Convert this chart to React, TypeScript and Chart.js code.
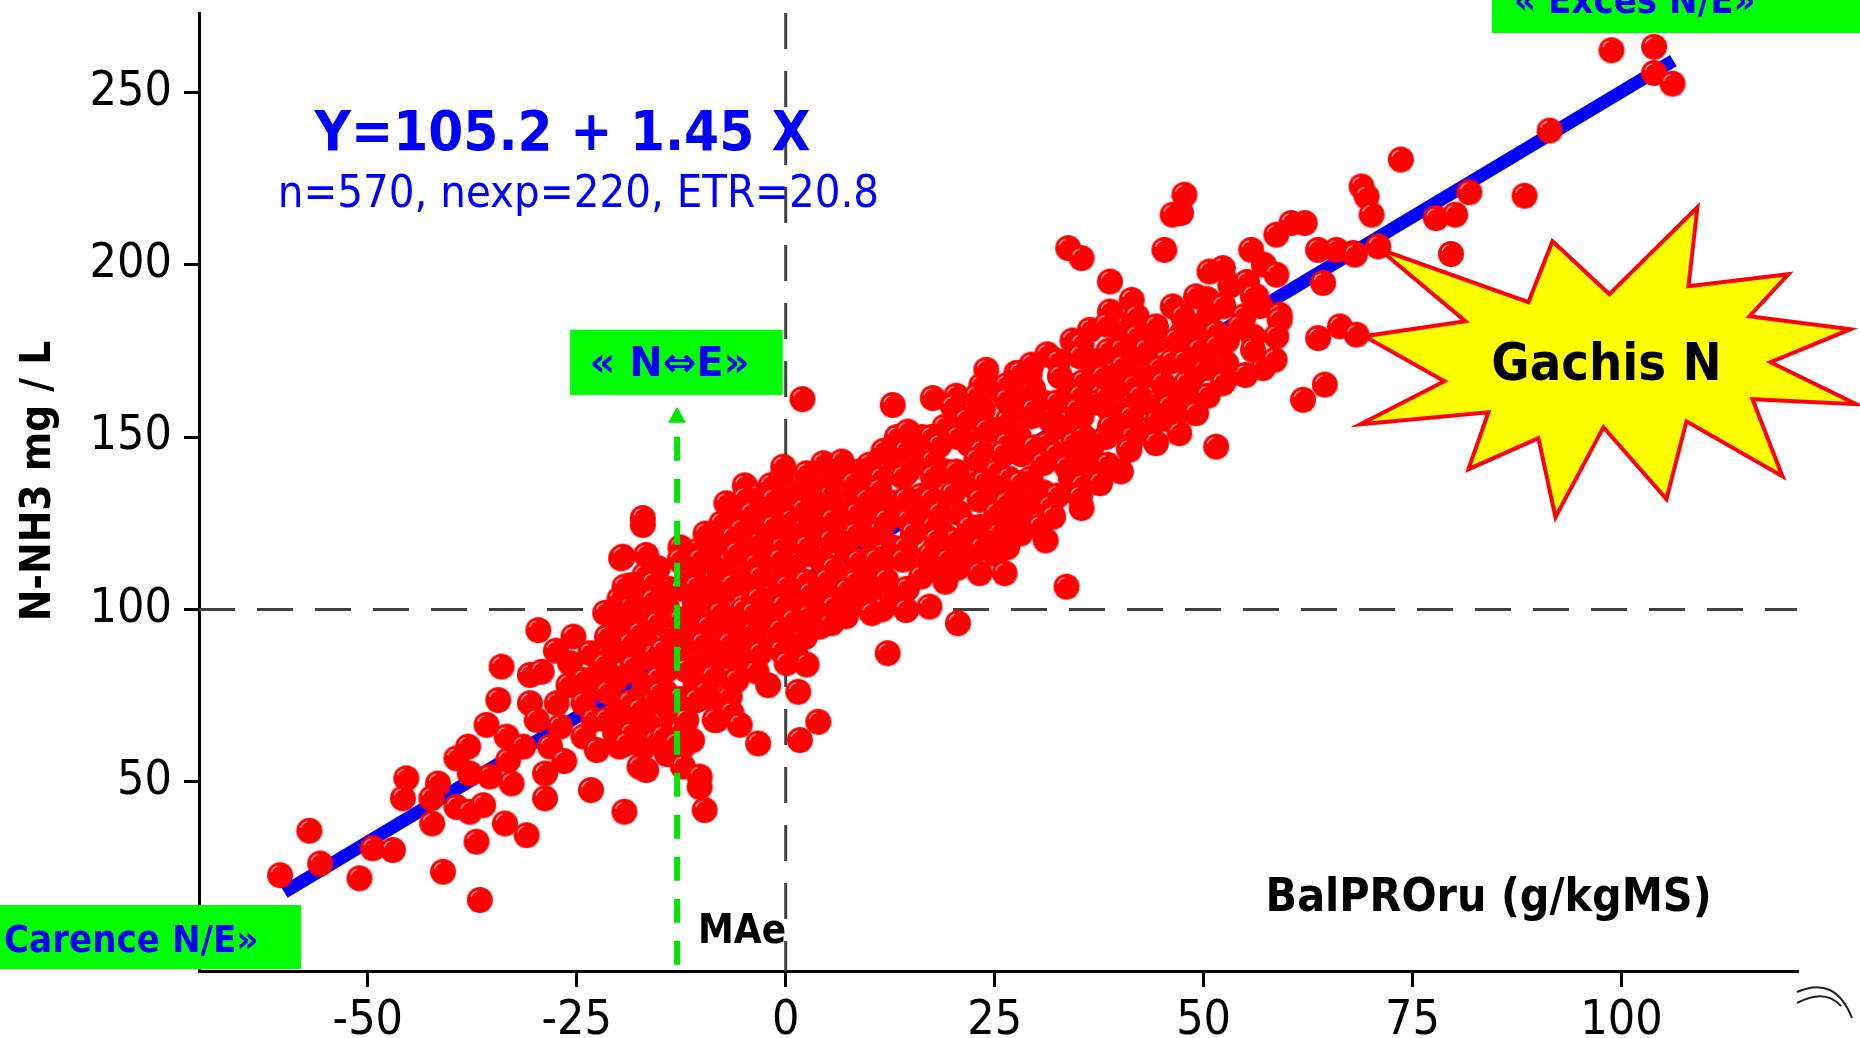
import { useEffect, useRef } from "react";
import { Chart, registerables } from "chart.js";
Chart.register(...registerables);

const W = 1860;
const H = 1038;

// axes
const xTicks = [-50, -25, 0, 25, 50, 75, 100];
const yTicks = [50, 100, 150, 200, 250];
const xRange = [-70.2, 121];
const yRange = [-4.9, 273];

// regression line end points (Y=105.2 + 1.45 X)
const regLine: [number, number][] = [[-60, 18], [106.2, 259.2]];
const refX = 0;
const refY = 100;
const maeX = -13;

// red points, BalPROru vs N-NH3
const lowerCloud: [number, number][] = [
  [-60.5, 22.9], [-57, 35.8], [-55.7, 26.3], [-51, 22], [-49.4, 30.7], [-47, 30.2], [-45.4, 51], [-45.8, 45.2],
  [-42.3, 37.9], [-41.6, 49.5], [-42.4, 45.2], [-41, 23.9], [-39.4, 42.7], [-37.8, 41.3], [-36.6, 15.7], [-37, 32.6],
  [-33.6, 37.9], [-31, 34.5], [-36.2, 43.2], [-32.8, 49.5], [-28.8, 45.2], [-28.8, 52.4], [-33.2, 56.3], [-35.4, 51.5],
  [-37.8, 52.4], [-39.4, 56.8], [-38, 60.2], [-35.8, 66.5], [-33.4, 63.1], [-34.4, 73.7], [-34, 83.4], [-30.6, 81],
  [-29.2, 81.9], [-30.6, 72.8], [-27.4, 72.8], [-29.8, 67.9], [-31.4, 60.2], [-28.2, 60.2], [-29.6, 94], [-25.4, 92.1],
  [-25.8, 84.4], [-23.4, 87.3], [-24.2, 72.8], [-24.2, 63.1], [-22.6, 59.2], [-23.3, 47.6], [-19.9, 60.2], [-19.3, 41.3],
  [-20.3, 67.9], [-22.2, 77.6], [-21.1, 87.3], [-18.3, 83.4], [-16.7, 90.2], [-19.5, 97.9], [-19.7, 114.8], [-15.7, 108.1],
  [-13.1, 96], [-17.1, 75.7], [-16.3, 66], [-16.7, 53.4], [-10.3, 48.5], [-9.7, 41.8], [-12.3, 60.2], [-13.9, 66],
  [-8.3, 67.9], [-10.7, 73.7], [-6.7, 74.7], [-14.3, 82.4], [-11.1, 84.4], [-7.5, 83.4], [-5.1, 87.3], [-9.1, 91.1],
  [-12.3, 89.2], [-22.2, 82.4], [-24.2, 79.5], [-17.1, 124.5], [-4.3, 122.1], [-5.5, 116.3], [-10.3, 106.6], [-7.5, 104.7],
  [-4.3, 106.6], [-4.3, 96.9], [-2.7, 109.5], [-12.3, 113.4], [-11.1, 98.9], [-8.3, 96.9], [-8.3, 87.3], [-5.9, 81.5],
  [-27, 66], [-26, 78], [-27.5, 88], [-23, 68], [-26.5, 56],
];

const middleCloud: [number, number][] = [
  [2, 161], [12.8, 159.3], [14.6, 151.6], [17.6, 161.3], [20, 158.9], [24, 169.5], [27.6, 168.6], [29.2, 168.6],
  [22.8, 161.8], [21.6, 155], [26.8, 159.8], [24, 152.1], [18.4, 147.7], [22.8, 143.4], [26, 145.3], [31.6, 155],
  [35.2, 161.8], [41.1, 147.2], [33.6, 106.6], [30.4, 125], [31.6, 129.8], [28, 131.8], [25.6, 122.1], [26.2, 110.5],
  [23.2, 110.5], [19.4, 114.4], [20.6, 96], [17.2, 100.8], [14.4, 99.8], [16.2, 109.5], [10.3, 98.9], [12.2, 87.3],
  [1.5, 76.1], [3.9, 67.4], [1.7, 62.1], [-3.3, 61.1], [-5.5, 66.5], [-8.5, 67.9], [-10.7, 73.7], [-0.3, 141.4],
  [2.5, 139.5], [4.5, 142.4], [6.7, 142.9], [8.1, 136.6], [-7.1, 130.8], [-4.9, 132.3], [-1.5, 131.8], [-1.5, 124],
  [-5.3, 123.1], [-4.1, 127.9], [-5.9, 116.3], [-17.1, 126.5], [-16.7, 115.8], [-19.5, 115.3], [-19.3, 106.6], [-15.9, 107.6],
  [-15.9, 102.7], [-12.7, 114.4], [-10.3, 114.4], [2.1, 128.9], [2.5, 118.2], [4.9, 108.5], [7.3, 105.6], [10.8, 114.4],
  [12, 108.5], [14, 114.4], [15.2, 122.1], [12, 125.9], [9.7, 131.8], [14, 138.5], [11.2, 134.7], [17.6, 138.5],
  [20, 133.7], [18.4, 127.9], [23.2, 131.8], [22, 124], [18, 120.2], [25.2, 127.9], [-0.7, 114.4], [-3.1, 109.5],
  [0.1, 106.6], [2.9, 104.7], [5.7, 100.8], [0.9, 96.9], [-3.9, 98.9], [-7.9, 98.9], [-10.7, 106.6], [-6.7, 90.2],
  [-3.1, 87.3], [0.1, 84.4], [-9.9, 90.2], [-11.9, 82.4], [-8.7, 80.5], [-5.9, 79.5], [-14.7, 88.2], [-17.5, 93.1],
  [-18.3, 83.4], [-15.1, 75.7], [-17.5, 70.8], [-14.7, 63.1], [-11.9, 67.9], [-19.1, 61.1], [-17.5, 54.4], [-12.3, 54.4],
  [-10.3, 51.5], [-13.1, 61.1],
];

const upperCloud: [number, number][] = [
  [98.8, 262.2], [103.9, 263.2], [103.9, 255.6], [106.1, 252.5], [91.4, 238.9], [73.6, 230.5], [88.4, 220], [81.8, 221],
  [77.8, 213.5], [80.1, 214.5], [79.6, 203.1], [70.9, 205.3], [68.9, 222.7], [69.5, 219.8], [70.1, 214.5], [67.9, 203.4],
  [65.9, 204.3], [63.7, 204.3], [62.1, 212.1], [60.5, 212.1], [58.7, 208.7], [55.7, 204.3], [58.7, 197.1], [64.3, 194.7],
  [52.3, 199], [50.7, 198], [49.1, 190.8], [52.3, 188.4], [56.3, 190.8], [59.1, 185.5], [47.7, 220.3], [47.3, 215],
  [46.3, 214.5], [45.3, 204.3], [33.8, 204.8], [35.4, 201.9], [38.8, 195.1], [38.8, 186.4], [41.4, 189.8], [36.4, 181.1],
  [38.4, 182.6], [42, 185], [46.3, 187.9], [47.5, 185], [44.3, 182.1], [42, 179.2], [40.2, 175.3], [43.1, 175.3],
  [46.7, 178.2], [49.5, 175.3], [51.5, 180.2], [52.3, 187.9], [55.9, 190.8], [68.1, 202.9], [59.1, 184], [55.9, 179.2],
  [54.3, 182.1], [58.7, 179.2], [58.5, 172.4], [52.7, 171.4], [51.5, 176.3], [55.9, 175.3], [63.7, 178.7], [66.3, 182.1],
  [68.3, 179.7], [64.5, 165.2], [61.9, 160.8], [51.5, 147.2], [52.3, 165.6], [49.1, 156.9], [47.1, 151.1], [44.3, 148.2],
  [41.1, 146.3], [37.6, 136.6], [35.4, 129.4], [32, 126.9], [30.4, 124], [45.9, 158.9], [45.1, 165.6], [47.9, 165.6],
  [42.3, 161.8], [40.3, 170.5], [38, 167.6], [35.2, 173.4], [32.8, 167.6], [28, 168.6], [26.4, 160.8], [29.6, 157.9],
  [34.8, 157.9], [38.8, 153], [34.4, 148.2], [30.8, 142.4], [28, 136.6], [26.4, 130.8], [33.6, 141.4], [35.2, 132.7],
];

// densely packed centre of the cloud
const coreCloud: [number, number][] = [
  [-20.4, 64], [-19.8, 72], [-20.2, 80], [-19.6, 88], [-20.3, 95], [-19.9, 103],
  [-17, 60], [-17.4, 68], [-16.8, 78], [-17.2, 86], [-16.6, 97], [-17.3, 104], [-16.9, 110],
  [-14.2, 58], [-13.8, 70], [-14.4, 76], [-13.6, 92], [-14.1, 100], [-13.9, 106],
  [-11.2, 62], [-10.8, 78], [-11.4, 93], [-10.9, 102], [-11.1, 110], [-10.6, 117],
  [-8.1, 72], [-7.8, 90], [-8.4, 102], [-7.9, 110], [-8.2, 118], [-7.7, 125],
  [-5.2, 84], [-4.8, 92], [-5.1, 100], [-4.7, 110], [-5.3, 128], [-4.9, 136],
  [-2.1, 78], [-1.8, 90], [-2.3, 98], [-1.9, 104], [-2.2, 116], [-1.7, 120], [-2, 128], [-1.8, 136],
  [1.1, 88], [0.8, 94], [1.3, 101], [0.9, 112], [1.2, 120], [0.7, 126], [1, 133],
  [4.1, 95], [3.8, 100], [4.3, 114], [3.9, 122], [4.2, 128], [4, 135],
  [7.2, 98], [6.8, 110], [7.1, 118], [6.9, 124], [7.3, 130], [7, 140],
  [10.1, 104], [9.8, 110], [10.3, 120], [9.9, 126], [10.2, 136], [10, 142],
  [13.2, 104], [12.8, 118], [13.1, 131], [12.9, 144], [13.3, 150],
  [16.1, 114], [15.8, 126], [16.2, 133], [15.9, 143], [16.3, 150],
  [19.1, 108], [18.8, 122], [19.2, 140], [19, 153],
  [22.2, 116], [21.8, 120], [22.1, 136], [21.9, 148], [22.3, 157],
  [25.1, 116], [24.8, 133], [25.2, 140], [24.9, 152], [25.3, 164],
  [28.1, 122], [27.8, 128], [28.2, 145], [27.9, 150], [28.3, 162],
  [31.1, 120], [30.8, 134], [31.2, 148], [30.9, 160], [31.3, 174],
  [34.1, 138], [33.8, 145], [34.2, 152], [33.9, 165], [34.3, 178],
  [37.1, 142], [36.8, 148], [37.2, 160], [36.9, 172],
  [40.1, 140], [39.8, 152], [40.2, 158], [39.9, 165], [40.3, 180],
  [43.1, 152], [42.8, 160], [43.2, 168],
  [46.1, 155], [45.8, 162], [46.2, 172],
  [49.1, 160], [48.8, 168], [49.2, 182],
  [53.1, 168], [52.8, 178], [53.2, 194],
  [57.1, 170], [56.8, 188], [57.2, 200],
];

// second, staggered layer of the dense centre
const coreCloud2: [number, number][] = [
  [-21.5, 68], [-21.3, 76], [-21.7, 84], [-21.4, 92], [-21.6, 99],
  [-18.5, 64], [-18.7, 73], [-18.3, 82], [-18.6, 90], [-18.4, 101], [-18.6, 107],
  [-15.5, 62], [-15.7, 73], [-15.3, 80], [-15.6, 87], [-15.4, 96], [-15.6, 103], [-15.3, 112],
  [-12.5, 65], [-12.7, 74], [-12.3, 86], [-12.6, 97], [-12.4, 106], [-12.6, 118],
  [-9.5, 76], [-9.7, 86], [-9.3, 95], [-9.6, 106], [-9.4, 114], [-9.6, 122],
  [-6.5, 70], [-6.7, 80], [-6.3, 88], [-6.6, 96], [-6.4, 107], [-6.6, 114], [-6.3, 121], [-6.5, 127],
  [-3.5, 82], [-3.7, 94], [-3.3, 103], [-3.6, 113], [-3.4, 119], [-3.6, 126], [-3.3, 133],
  [-0.5, 88], [-0.7, 94], [-0.3, 101], [-0.6, 110], [-0.4, 118], [-0.6, 124], [-0.3, 132], [-0.5, 138],
  [2.5, 84], [2.3, 92], [2.7, 98], [2.4, 108], [2.6, 116], [2.4, 124], [2.7, 131], [2.5, 136],
  [5.5, 96], [5.3, 104], [5.7, 112], [5.4, 120], [5.6, 126], [5.4, 133], [5.7, 138],
  [8.5, 102], [8.3, 108], [8.7, 114], [8.4, 122], [8.6, 128], [8.4, 134], [8.7, 140],
  [11.5, 100], [11.3, 112], [11.7, 116], [11.4, 123], [11.6, 130], [11.4, 138], [11.7, 146],
  [14.5, 106], [14.3, 118], [14.7, 126], [14.4, 132], [14.6, 140], [14.4, 146],
  [17.5, 112], [17.3, 116], [17.7, 124], [17.4, 132], [17.6, 143], [17.4, 150],
  [20.5, 112], [20.3, 120], [20.7, 128], [20.4, 140], [20.6, 150], [20.4, 162],
  [23.5, 118], [23.3, 124], [23.7, 137], [23.4, 146], [23.6, 158], [23.4, 165],
  [26.5, 118], [26.3, 126], [26.7, 138], [26.4, 148], [26.6, 155], [26.4, 165],
  [29.5, 130], [29.3, 138], [29.7, 147], [29.4, 156], [29.6, 164], [29.4, 171],
  [32.5, 133], [32.3, 145], [32.7, 153], [32.4, 160], [32.6, 172],
  [35.5, 136], [35.3, 143], [35.7, 150], [35.4, 156], [35.6, 166], [35.4, 177],
  [38.5, 142], [38.3, 150], [38.7, 158], [38.4, 162], [38.6, 175],
  [41.5, 150], [41.3, 156], [41.7, 165], [41.4, 172], [41.6, 184],
  [44.5, 155], [44.3, 160], [44.7, 170], [44.4, 178],
  [47.5, 158], [47.3, 163], [47.7, 172], [47.4, 180],
  [50.5, 162], [50.3, 170], [50.7, 186], [50.4, 190],
  [55, 168], [54.8, 185], [55.2, 195],
];

const tickFont = "'Liberation Sans Narrow', 'DejaVu Sans Condensed', sans-serif";
const labelFont = "'DejaVu Sans Condensed', 'DejaVu Sans', sans-serif";

// star burst outline around "Gachis N", offsets in px from its centre
const starPts: [number, number][] = [
  [-227, -112], [-141, -40], [-242, -25], [-162, 20], [-246, 63], [-118, 51], [-138, 108], [-68, 77],
  [-51, 156], [-3, 66], [60, 138], [80, 60], [176, 115], [146, 38], [250, 43], [164, 1],
  [244, -32], [143, -45], [182, -87], [82, -75], [91, -154], [3, -67], [-54, -120], [-78, -59],
];

function makeDot() {
  const c = document.createElement("canvas");
  c.width = 28;
  c.height = 28;
  const g = c.getContext("2d")!;
  g.fillStyle = "#ff0000";
  g.beginPath();
  g.arc(14, 14, 13, 0, Math.PI * 2);
  g.fill();
  g.strokeStyle = "rgba(255,205,205,0.9)";
  g.lineWidth = 1.3;
  g.beginPath();
  g.arc(13, 13, 8, Math.PI * 1.08, Math.PI * 1.45);
  g.stroke();
  return c;
}

const overlay = {
  id: "overlay",
  beforeDatasetsDraw(chart: any) {
    const { ctx, chartArea: a, scales } = chart;
    const x0 = scales.x.getPixelForValue(refX);
    const y0 = scales.y.getPixelForValue(refY);
    ctx.save();
    ctx.strokeStyle = "#404040";
    ctx.lineWidth = 3;
    ctx.setLineDash([36, 22]);
    ctx.beginPath();
    ctx.moveTo(x0, a.top);
    ctx.lineTo(x0, a.bottom);
    ctx.stroke();
    ctx.beginPath();
    ctx.moveTo(a.left, y0);
    ctx.lineTo(a.right, y0);
    ctx.stroke();
    ctx.restore();
  },
  afterDatasetsDraw(chart: any) {
    const { ctx, chartArea: a, scales } = chart;
    const px = (v: number) => scales.x.getPixelForValue(v);
    const py = (v: number) => scales.y.getPixelForValue(v);
    ctx.save();

    // MAe dashed arrow
    const mx = px(maeX);
    ctx.strokeStyle = "#00e600";
    ctx.fillStyle = "#00e600";
    ctx.lineWidth = 6;
    ctx.setLineDash([24, 18]);
    ctx.beginPath();
    ctx.moveTo(mx, py(150.1));
    ctx.lineTo(mx, a.bottom - 4);
    ctx.stroke();
    ctx.setLineDash([]);
    const tip = py(158.8);
    ctx.beginPath();
    ctx.moveTo(mx, tip);
    ctx.lineTo(mx + 9, tip + 16);
    ctx.lineTo(mx - 9, tip + 16);
    ctx.closePath();
    ctx.fill();

    // « N⇔E» box
    ctx.fillStyle = "#00ff00";
    ctx.fillRect(px(-25.8), py(181.1), px(-0.35) - px(-25.8), py(162.2) - py(181.1));
    ctx.fillStyle = "#0000ff";
    ctx.font = "bold 40px 'DejaVu Sans', sans-serif";
    ctx.textAlign = "center";
    ctx.textBaseline = "alphabetic";
    ctx.fillText("« N⇔E»", px(-13.9), py(167.6));

    // equation
    ctx.font = `bold 56px ${labelFont}`;
    ctx.fillText("Y=105.2 + 1.45 X", px(-26.7), py(233.4));
    ctx.font = `45px ${labelFont}`;
    ctx.fillText("n=570, nexp=220, ETR=20.8", px(-24.8), py(216.8));

    // MAe label and x title
    ctx.fillStyle = "#000";
    ctx.textAlign = "left";
    ctx.font = `bold 40px ${labelFont}`;
    ctx.fillText("MAe", px(-10.5), py(3.2));
    ctx.textAlign = "center";
    ctx.font = `bold 46px ${labelFont}`;
    ctx.fillText("BalPROru (g/kgMS)", px(84.1), py(12.6));

    // star burst
    const cx = px(98.2);
    const cy = py(172);
    ctx.beginPath();
    starPts.forEach(([dx, dy], i) => (i ? ctx.lineTo(cx + dx, cy + dy) : ctx.moveTo(cx + dx, cy + dy)));
    ctx.closePath();
    ctx.fillStyle = "#ffff00";
    ctx.fill();
    ctx.strokeStyle = "#ff0000";
    ctx.lineWidth = 4;
    ctx.lineJoin = "miter";
    ctx.stroke();
    ctx.fillStyle = "#000";
    ctx.font = `bold 52px ${labelFont}`;
    ctx.fillText("Gachis N", cx, py(166.6));
    ctx.restore();
  },
  afterDraw(chart: any) {
    const { ctx } = chart;
    ctx.save();
    // y title
    ctx.translate(50, 481);
    ctx.rotate(-Math.PI / 2);
    ctx.fillStyle = "#000";
    ctx.font = `bold 42px ${labelFont}`;
    ctx.textAlign = "center";
    ctx.textBaseline = "alphabetic";
    ctx.fillText("N-NH3 mg / L", 0, 0);
    ctx.restore();

    ctx.save();
    ctx.fillStyle = "#00ff00";
    ctx.fillRect(0, 905, 301, 64);
    ctx.fillRect(1492, 0, W - 1492, 33);
    ctx.fillStyle = "#0000ff";
    ctx.font = `bold 38px ${labelFont}`;
    ctx.textAlign = "left";
    ctx.textBaseline = "alphabetic";
    ctx.fillText("Carence N/E»", 4, 952);
    ctx.fillText("« Exces N/E»", 1514, 13);

    // small mark in the bottom-right corner
    ctx.strokeStyle = "#222";
    ctx.lineWidth = 2;
    ctx.beginPath();
    ctx.moveTo(1797, 992);
    ctx.quadraticCurveTo(1835, 975, 1852, 1018);
    ctx.moveTo(1797, 1003);
    ctx.quadraticCurveTo(1825, 988, 1841, 1006);
    ctx.stroke();
    ctx.restore();
  },
};

export default function App() {
  const ref = useRef<HTMLCanvasElement | null>(null);

  useEffect(() => {
    document.body.style.margin = "0";
    if (!ref.current) return;
    const ctx = ref.current.getContext("2d");
    if (!ctx) return;

    const pts = [...lowerCloud, ...coreCloud, ...coreCloud2, ...middleCloud, ...upperCloud].map(([x, y]) => ({ x, y }));
    const dot = makeDot();

    const chart = new Chart(ctx, {
      type: "scatter",
      data: {
        datasets: [
          {
            type: "line",
            data: regLine.map(([x, y]) => ({ x, y })),
            borderColor: "#0000ff",
            borderWidth: 13,
            borderCapStyle: "butt",
            pointRadius: 0,
            order: 2,
          } as any,
          {
            data: pts,
            pointStyle: dot as any,
            pointRadius: 13,
            backgroundColor: "#ff0000",
            borderWidth: 0,
            order: 1,
          },
        ],
      },
      options: {
        animation: false,
        responsive: false,
        devicePixelRatio: 1,
        events: [],
        layout: { padding: { top: 13, right: W - 1797, left: 0, bottom: 0 } },
        plugins: { legend: { display: false }, tooltip: { enabled: false } },
        scales: {
          x: {
            type: "linear",
            min: xRange[0],
            max: xRange[1],
            afterFit: (s: any) => {
              s.height = H - 971;
              s.paddingLeft = 0;
              s.paddingRight = 0;
            },
            afterBuildTicks: (s: any) => {
              s.ticks = xTicks.map((v) => ({ value: v }));
            },
            grid: { display: true, drawOnChartArea: false, drawTicks: true, tickLength: 16, color: "#000", lineWidth: 3 },
            border: { display: true, color: "#000", width: 3 },
            ticks: {
              font: { family: tickFont, size: 48 },
              color: "#000",
              padding: 6,
              maxRotation: 0,
              autoSkip: false,
              callback: (v: any) => String(v),
            },
          },
          y: {
            type: "linear",
            min: yRange[0],
            max: yRange[1],
            afterFit: (s: any) => {
              s.width = 199;
              s.paddingTop = 0;
              s.paddingBottom = 0;
            },
            afterBuildTicks: (s: any) => {
              s.ticks = yTicks.map((v) => ({ value: v }));
            },
            grid: { display: true, drawOnChartArea: false, drawTicks: true, tickLength: 15, color: "#000", lineWidth: 3 },
            border: { display: true, color: "#000", width: 3 },
            ticks: {
              font: { family: tickFont, size: 48 },
              color: "#000",
              padding: 12,
              autoSkip: false,
              callback: (v: any) => String(v),
            },
          },
        },
      },
      plugins: [overlay],
    });

    return () => chart.destroy();
  }, []);

  return (
    <div style={{ width: W, height: H, background: "#fff" }}>
      <canvas ref={ref} width={W} height={H} style={{ display: "block", width: W, height: H }} />
    </div>
  );
}
